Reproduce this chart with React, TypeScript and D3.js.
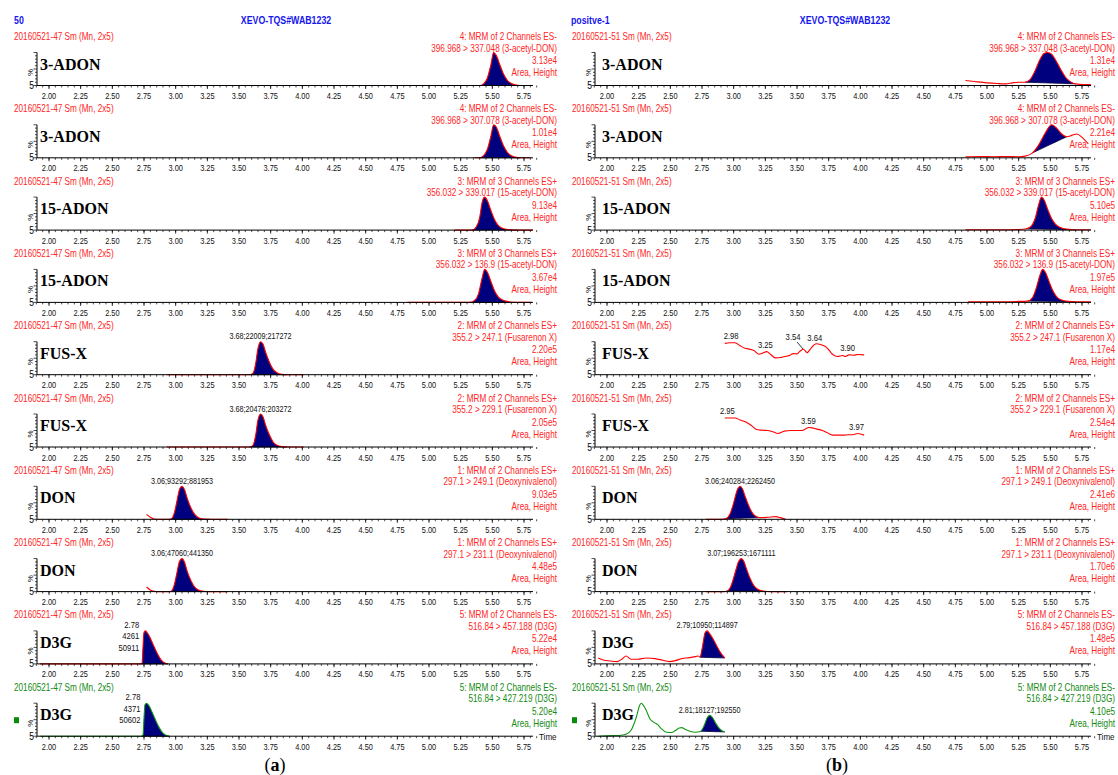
import React from "react";
import * as d3 from "d3";

type Pt = [number, number];

const headerA = "50";
const headerB = "positve-1";
const instrument = "XEVO-TQS#WAB1232";
const sampleA = "20160521-47 Sm (Mn, 2x5)";
const sampleB = "20160521-51 Sm (Mn, 2x5)";

const compounds = ["3-ADON", "3-ADON", "15-ADON", "15-ADON", "FUS-X", "FUS-X", "DON", "DON", "D3G", "D3G"];
const channels = [
  "4: MRM of 2 Channels ES-", "4: MRM of 2 Channels ES-",
  "3: MRM of 3 Channels ES+", "3: MRM of 3 Channels ES+",
  "2: MRM of 2 Channels ES+", "2: MRM of 2 Channels ES+",
  "1: MRM of 2 Channels ES+", "1: MRM of 2 Channels ES+",
  "5: MRM of 2 Channels ES-", "5: MRM of 2 Channels ES-",
];
const transitions = [
  "396.968 > 337.048 (3-acetyl-DON)", "396.968 > 307.078 (3-acetyl-DON)",
  "356.032 > 339.017 (15-acetyl-DON)", "356.032 > 136.9 (15-acetyl-DON)",
  "355.2 > 247.1 (Fusarenon X)", "355.2 > 229.1 (Fusarenon X)",
  "297.1 > 249.1 (Deoxynivalenol)", "297.1 > 231.1 (Deoxynivalenol)",
  "516.84 > 457.188 (D3G)", "516.84 > 427.219 (D3G)",
];
const maxA = ["3.13e4", "1.01e4", "9.13e4", "3.67e4", "2.20e5", "2.05e5", "9.03e5", "4.48e5", "5.22e4", "5.20e4"];
const maxB = ["1.31e4", "2.21e4", "5.10e5", "1.97e5", "1.17e4", "2.54e4", "2.41e6", "1.70e6", "1.48e5", "4.10e5"];
const tickLabels = ["2.00", "2.25", "2.50", "2.75", "3.00", "3.25", "3.50", "3.75", "4.00", "4.25", "4.50", "4.75", "5.00", "5.25", "5.50", "5.75"];

// ---- traces (time in min, intensity in %) ----
const traceA1: Pt[] = [[5.36, 0], [5.40, 0], [5.43, 5], [5.46, 22], [5.49, 65], [5.51, 100], [5.53, 92], [5.56, 62], [5.59, 33], [5.62, 15], [5.65, 6], [5.68, 2], [5.72, 0], [5.80, 0]];
const traceA2: Pt[] = [[5.36, 0], [5.40, 0], [5.43, 6], [5.46, 25], [5.49, 68], [5.51, 100], [5.53, 94], [5.56, 64], [5.59, 35], [5.62, 16], [5.65, 6], [5.68, 2], [5.72, 0], [5.80, 0]];
const traceA3: Pt[] = [[5.20, 0], [5.34, 0], [5.37, 8], [5.40, 38], [5.42, 85], [5.44, 100], [5.46, 90], [5.49, 58], [5.52, 30], [5.55, 13], [5.59, 4], [5.64, 1], [5.70, 0], [5.82, 0]];
const traceA4: Pt[] = [[4.83, 0], [5.25, 0], [5.32, 0], [5.36, 6], [5.39, 25], [5.42, 75], [5.44, 100], [5.46, 92], [5.49, 62], [5.52, 33], [5.55, 15], [5.59, 6], [5.63, 2], [5.68, 0], [5.81, 0]];
const traceA5: Pt[] = [[2.93, 0], [3.58, 0], [3.61, 4], [3.63, 30], [3.65, 80], [3.67, 100], [3.69, 92], [3.71, 68], [3.74, 38], [3.77, 16], [3.80, 6], [3.84, 1], [3.88, 0], [4.01, 0]];
const traceA6: Pt[] = [[2.93, 0], [3.58, 0], [3.61, 5], [3.63, 32], [3.65, 82], [3.67, 100], [3.69, 91], [3.71, 66], [3.74, 37], [3.77, 15], [3.80, 5], [3.84, 1], [3.88, 0], [4.01, 0]];
const traceA7: Pt[] = [[2.77, 15], [2.80, 6], [2.83, 1], [2.86, 0], [2.95, 0], [2.97, 3], [2.99, 20], [3.01, 55], [3.03, 90], [3.05, 100], [3.07, 90], [3.09, 65], [3.12, 35], [3.15, 15], [3.18, 5], [3.22, 1], [3.27, 0], [3.41, 0]];
const traceA8: Pt[] = [[2.77, 14], [2.80, 5], [2.83, 1], [2.86, 0], [2.95, 0], [2.97, 3], [2.99, 22], [3.01, 57], [3.03, 91], [3.05, 100], [3.07, 89], [3.09, 63], [3.12, 34], [3.15, 14], [3.18, 5], [3.22, 1], [3.27, 0], [3.41, 0]];
const traceA9: Pt[] = [[1.93, 0], [2.72, 0], [2.735, 2], [2.742, 50], [2.75, 95], [2.76, 100], [2.78, 92], [2.80, 78], [2.83, 52], [2.86, 28], [2.89, 10], [2.92, 2], [2.94, 0]];
const traceA10: Pt[] = [[1.93, 0], [2.73, 0], [2.742, 3], [2.75, 55], [2.758, 96], [2.77, 100], [2.79, 92], [2.81, 76], [2.84, 50], [2.87, 26], [2.90, 9], [2.93, 2], [2.95, 0]];

const traceB1: Pt[] = [[4.83, 15], [4.90, 12], [5.00, 8], [5.08, 6], [5.15, 5], [5.20, 8], [5.25, 10], [5.30, 10], [5.34, 18], [5.38, 45], [5.42, 80], [5.45, 97], [5.48, 100], [5.51, 95], [5.54, 78], [5.58, 50], [5.62, 25], [5.66, 11], [5.70, 5], [5.76, 3], [5.82, 3]];
const traceB2: Pt[] = [[4.83, 3], [4.95, 4], [5.05, 3], [5.15, 4], [5.25, 3], [5.30, 5], [5.36, 15], [5.41, 40], [5.46, 75], [5.51, 100], [5.55, 90], [5.59, 72], [5.63, 64], [5.67, 68], [5.71, 72], [5.75, 62], [5.80, 42]];
const traceB3: Pt[] = [[4.83, 1], [5.10, 1], [5.25, 2], [5.31, 4], [5.35, 12], [5.38, 35], [5.41, 80], [5.43, 100], [5.45, 92], [5.48, 62], [5.51, 35], [5.54, 18], [5.58, 8], [5.63, 3], [5.70, 1], [5.82, 1]];
const traceB4: Pt[] = [[4.85, 2], [5.10, 2], [5.25, 3], [5.32, 4], [5.36, 15], [5.39, 45], [5.42, 85], [5.44, 100], [5.46, 92], [5.49, 63], [5.52, 35], [5.55, 17], [5.59, 7], [5.64, 3], [5.70, 2], [5.82, 2]];
const traceB5: Pt[] = [[2.93, 95], [2.97, 97], [3.01, 97], [3.05, 88], [3.09, 80], [3.13, 77], [3.16, 73], [3.20, 62], [3.23, 66], [3.26, 70], [3.29, 62], [3.33, 51], [3.37, 52], [3.40, 55], [3.44, 58], [3.47, 64], [3.50, 63], [3.52, 70], [3.55, 77], [3.58, 67], [3.61, 80], [3.65, 94], [3.69, 91], [3.72, 86], [3.74, 80], [3.78, 62], [3.82, 55], [3.86, 58], [3.88, 55], [3.91, 60], [3.95, 59], [3.98, 61], [4.03, 60]];
const traceB6: Pt[] = [[2.93, 88], [2.97, 88], [3.01, 88], [3.05, 82], [3.10, 75], [3.14, 65], [3.18, 53], [3.22, 51], [3.27, 50], [3.31, 46], [3.35, 41], [3.40, 48], [3.45, 50], [3.50, 50], [3.54, 50], [3.57, 55], [3.59, 59], [3.62, 58], [3.65, 55], [3.70, 50], [3.74, 43], [3.78, 36], [3.82, 36], [3.86, 36], [3.90, 37], [3.95, 38], [3.98, 41], [4.03, 36]];
const traceB7: Pt[] = [[2.78, 0], [2.90, 0], [2.94, 2], [2.97, 15], [3.00, 50], [3.03, 90], [3.05, 100], [3.07, 92], [3.09, 70], [3.12, 40], [3.15, 18], [3.18, 8], [3.22, 5], [3.27, 6], [3.33, 8], [3.37, 5], [3.41, 0]];
const traceB8: Pt[] = [[2.78, 0], [2.92, 0], [2.95, 2], [2.98, 18], [3.01, 55], [3.04, 92], [3.06, 100], [3.08, 92], [3.10, 70], [3.13, 40], [3.16, 18], [3.19, 7], [3.23, 2], [3.30, 0], [3.42, 0]];
const traceB9: Pt[] = [[1.93, 18], [1.97, 12], [2.02, 9], [2.08, 7], [2.12, 15], [2.15, 24], [2.19, 14], [2.24, 14], [2.31, 18], [2.38, 16], [2.44, 11], [2.49, 7], [2.54, 10], [2.59, 16], [2.65, 19], [2.70, 22], [2.72, 24], [2.735, 20], [2.755, 55], [2.775, 95], [2.79, 100], [2.81, 92], [2.84, 74], [2.87, 52], [2.90, 32], [2.93, 18]];
const traceB10: Pt[] = [[1.93, 0], [2.00, 1], [2.06, 2], [2.11, 3], [2.15, 6], [2.19, 18], [2.23, 56], [2.26, 95], [2.27, 100], [2.29, 92], [2.31, 78], [2.34, 52], [2.37, 42], [2.40, 35], [2.43, 22], [2.47, 12], [2.51, 11], [2.54, 17], [2.57, 25], [2.59, 26], [2.62, 20], [2.66, 14], [2.70, 12], [2.74, 15], [2.77, 35], [2.79, 55], [2.81, 63], [2.83, 58], [2.86, 38], [2.89, 22], [2.92, 14], [2.93, 13]];

const tracesA = [traceA1, traceA2, traceA3, traceA4, traceA5, traceA6, traceA7, traceA8, traceA9, traceA10];
const tracesB = [traceB1, traceB2, traceB3, traceB4, traceB5, traceB6, traceB7, traceB8, traceB9, traceB10];

// integration windows (start, end) in min
const windowsA: (Pt | null)[] = [[5.40, 5.72], [5.40, 5.72], [5.34, 5.70], [5.32, 5.68], [3.58, 3.88], [3.58, 3.88], [2.95, 3.27], [2.95, 3.27], [2.72, 2.94], [2.73, 2.95]];
const windowsB: (Pt | null)[] = [[5.30, 5.70], [5.36, 5.63], [5.31, 5.70], [5.32, 5.70], null, null, [2.94, 3.22], [2.95, 3.23], [2.735, 2.93], [2.74, 2.93]];

const peakTextA = ["", "", "", "", "3.68;22009;217272", "3.68;20476;203272", "3.06;93292;881953", "3.06;47060;441350", "", ""];
const peakTextB = ["", "", "", "", "", "", "3.06;240284;2262450", "3.07;196253;1671111", "2.79;10950;114897", "2.81;18127;192550"];
const stackTextA: string[][] = [[], [], [], [], [], [], [], [], ["2.78", "4261", "50911"], ["2.78", "4371", "50602"]];
const rtLabelsB: string[][] = [[], [], [], [], ["2.98", "3.25", "3.54", "3.64", "3.90"], ["2.95", "3.59", "3.97"], [], [], [], []];

// ---- layout ----
const ROW0 = 85.5;
const PITCH = 72.3;
const PH = 33;
const COL_OFF = 558;
const X0 = 49;
const X1 = 524;
const YAX = 37;
const AXEND = 533;
const RIGHT_TEXT = 557;
const SANS = "'Liberation Sans', Arial, Helvetica, sans-serif";
const SERIF = "'Liberation Serif', 'Times New Roman', serif";
const RED_T = "#ff2626";
const RED_L = "#ff0000";
const GREEN_T = "#138a13";
const GREEN_L = "#119a11";
const NAVY = "#00007e";

function T(props: { x: number; y: number; size: number; fill: string; anchor?: string; sx?: number; weight?: string | number; family?: string; children: React.ReactNode }) {
  const { x, y, size, fill, anchor = "start", sx = 1, weight = "normal", family = SANS, children } = props;
  return (
    <text transform={`translate(${x},${y}) scale(${sx},1)`} fontSize={size} fill={fill} textAnchor={anchor as any} fontWeight={weight as any} fontFamily={family}>
      {children}
    </text>
  );
}

function valueAt(trace: Pt[], t: number): number {
  for (let i = 0; i < trace.length - 1; i++) {
    if (t >= trace[i][0] && t <= trace[i + 1][0]) {
      const f = (t - trace[i][0]) / (trace[i + 1][0] - trace[i][0]);
      return trace[i][1] + f * (trace[i + 1][1] - trace[i][1]);
    }
  }
  return trace[trace.length - 1][1];
}

function Panel({ col, row }: { col: number; row: number }) {
  const off = col * COL_OFF;
  const a = ROW0 + row * PITCH;
  const x = d3.scaleLinear().domain([2, 5.75]).range([X0 + off, X1 + off]);
  const y = d3.scaleLinear().domain([0, 100]).range([a, a - PH]);
  const green = row === 9;
  const tc = green ? GREEN_T : RED_T;
  const lc = green ? GREEN_L : RED_L;
  const trace = col === 0 ? tracesA[row] : tracesB[row];
  const win = col === 0 ? windowsA[row] : windowsB[row];
  const line = d3.line<Pt>().x((d) => x(d[0])).y((d) => y(d[1])).curve(d3.curveMonotoneX);

  let areaPath: string | null = null;
  let basePath: string | null = null;
  let peak: Pt | null = null;
  if (win) {
    const seg = trace.filter((d) => d[0] >= win[0] - 1e-9 && d[0] <= win[1] + 1e-9);
    const v0 = seg[0][1];
    const v1 = seg[seg.length - 1][1];
    const base = (t: number) => v0 + ((v1 - v0) * (t - win[0])) / (win[1] - win[0]);
    const area = d3.area<Pt>().x((d) => x(d[0])).y0((d) => y(base(d[0]))).y1((d) => y(d[1])).curve(d3.curveMonotoneX);
    areaPath = area(seg);
    basePath = `M${x(win[0])},${y(v0)}L${x(win[1])},${y(v1)}`;
    peak = seg.reduce((m, d) => (d[1] > m[1] ? d : m), seg[0]);
  }

  const minor = d3.range(1.9, 5.86, 0.05);
  const yTicks = d3.range(0, 101, 10);
  const peakText = col === 0 ? peakTextA[row] : peakTextB[row];
  const stack = col === 0 ? stackTextA[row] : [];
  const rts = col === 1 ? rtLabelsB[row] : [];
  const textRight = RIGHT_TEXT + off;
  const sample = col === 0 ? sampleA : sampleB;
  const maxTxt = col === 0 ? maxA[row] : maxB[row];
  const labelX = col === 0 ? 40 : 602;

  return (
    <g>
      {/* header texts */}
      <T x={14 + off} y={a - 45.5} size={10} fill={tc} sx={0.82}>{sample}</T>
      <T x={textRight} y={a - 45.5} size={10} fill={tc} sx={0.82} anchor="end">{channels[row]}</T>
      <T x={textRight} y={a - 34} size={10} fill={tc} sx={0.82} anchor="end">{transitions[row]}</T>
      <T x={textRight} y={a - 21.5} size={10} fill={tc} sx={0.82} anchor="end">{maxTxt}</T>
      <T x={textRight} y={a - 9.5} size={10} fill={tc} sx={0.82} anchor="end">Area, Height</T>
      {/* compound label */}
      <T x={labelX} y={a - 16} size={16} fill="#000" weight="bold" family={SERIF}>{compounds[row]}</T>
      {green && <rect x={14 + off} y={a - 19} width={5} height={6} fill="#0a8a0a" />}

      {/* fill + trace */}
      {areaPath && <path d={areaPath} fill={NAVY} stroke="none" />}
      {basePath && <path d={basePath} stroke="#000040" strokeWidth={0.8} fill="none" />}
      <path d={line(trace) || ""} fill="none" stroke={lc} strokeWidth={1.1} />

      {/* y axis */}
      <line x1={YAX + off} x2={YAX + off} y1={a} y2={a - PH} stroke="#000" strokeWidth={1} />
      {yTicks.map((v) => (
        <line key={v} x1={YAX + off - (v % 50 === 0 ? 3.5 : 2)} x2={YAX + off} y1={y(v)} y2={y(v)} stroke="#000" strokeWidth={0.7} />
      ))}
      <T x={YAX + off - 3} y={a + 3.5} size={10} fill="#000" anchor="end" sx={0.85}>5</T>
      <text transform={`translate(${YAX + off - 4},${a - 13}) rotate(-90)`} fontSize={8} fontFamily={SANS} textAnchor="middle" fill="#000">%</text>

      {/* x axis */}
      <line x1={YAX + off} x2={AXEND + off} y1={a} y2={a} stroke="#000" strokeWidth={1} />
      {minor.map((t, i) => (
        <line key={"m" + i} x1={x(t)} x2={x(t)} y1={a} y2={a + 2} stroke="#000" strokeWidth={0.7} />
      ))}
      {tickLabels.map((s) => (
        <g key={s}>
          <line x1={x(+s)} x2={x(+s)} y1={a} y2={a + 3.5} stroke="#000" strokeWidth={0.8} />
          <T x={x(+s)} y={a + 13.5} size={9.5} fill="#111" anchor="middle" sx={0.78}>{s}</T>
        </g>
      ))}
      {row === 9 && <T x={AXEND + off + 6} y={a + 4} size={9.5} fill="#111" sx={0.85}>Time</T>}

      {/* peak annotations */}
      {peakText && peak && (
        <T x={x(peak[0])} y={y(peak[1]) - 2.5} size={9} fill="#111" anchor="middle" sx={0.8}>{peakText}</T>
      )}
      {stack.length > 0 && win && (
        <g>
          {stack.map((s, i) => (
            <T key={i} x={x(win[0]) - 1} y={a - 36 + i * 11.5} size={9} fill="#111" anchor="end" sx={0.85}>{s}</T>
          ))}
        </g>
      )}
      {rts.map((s) => {
        const t = +s;
        const v = valueAt(trace, t);
        const shifted = s === "3.54";
        const lx = x(t) - (shifted ? 9 : 0);
        const ly = y(v) - (shifted ? 10 : 4);
        return (
          <g key={s}>
            <T x={lx} y={ly} size={9} fill="#111" anchor="middle" sx={0.85}>{s}</T>
            {shifted && <line x1={lx + 4} y1={ly + 2} x2={x(t) + 1} y2={y(v) - 1} stroke="#000" strokeWidth={0.8} />}
          </g>
        );
      })}
    </g>
  );
}

export default function App() {
  const rows = d3.range(10);
  return (
    <svg width={1118} height={775} style={{ position: "absolute", left: 0, top: 0, background: "#fff" }}>
      <rect x={0} y={0} width={1118} height={775} fill="#fff" />
      <T x={14} y={23.5} size={10} fill="#1515ee" weight="bold" sx={0.88}>{headerA}</T>
      <T x={286} y={23.5} size={10} fill="#1515ee" weight="bold" anchor="middle" sx={0.88}>{instrument}</T>
      <T x={571} y={23.5} size={10} fill="#1515ee" weight="bold" sx={0.88}>{headerB}</T>
      <T x={845} y={23.5} size={10} fill="#1515ee" weight="bold" anchor="middle" sx={0.88}>{instrument}</T>
      {[0, 1].map((c) => rows.map((r) => <Panel key={c + "-" + r} col={c} row={r} />))}
      <text x={275} y={771} fontSize={18} fontFamily={SERIF} textAnchor="middle" fill="#000">
        (<tspan fontWeight="bold">a</tspan>)
      </text>
      <text x={837} y={771} fontSize={18} fontFamily={SERIF} textAnchor="middle" fill="#000">
        (<tspan fontWeight="bold">b</tspan>)
      </text>
    </svg>
  );
}
